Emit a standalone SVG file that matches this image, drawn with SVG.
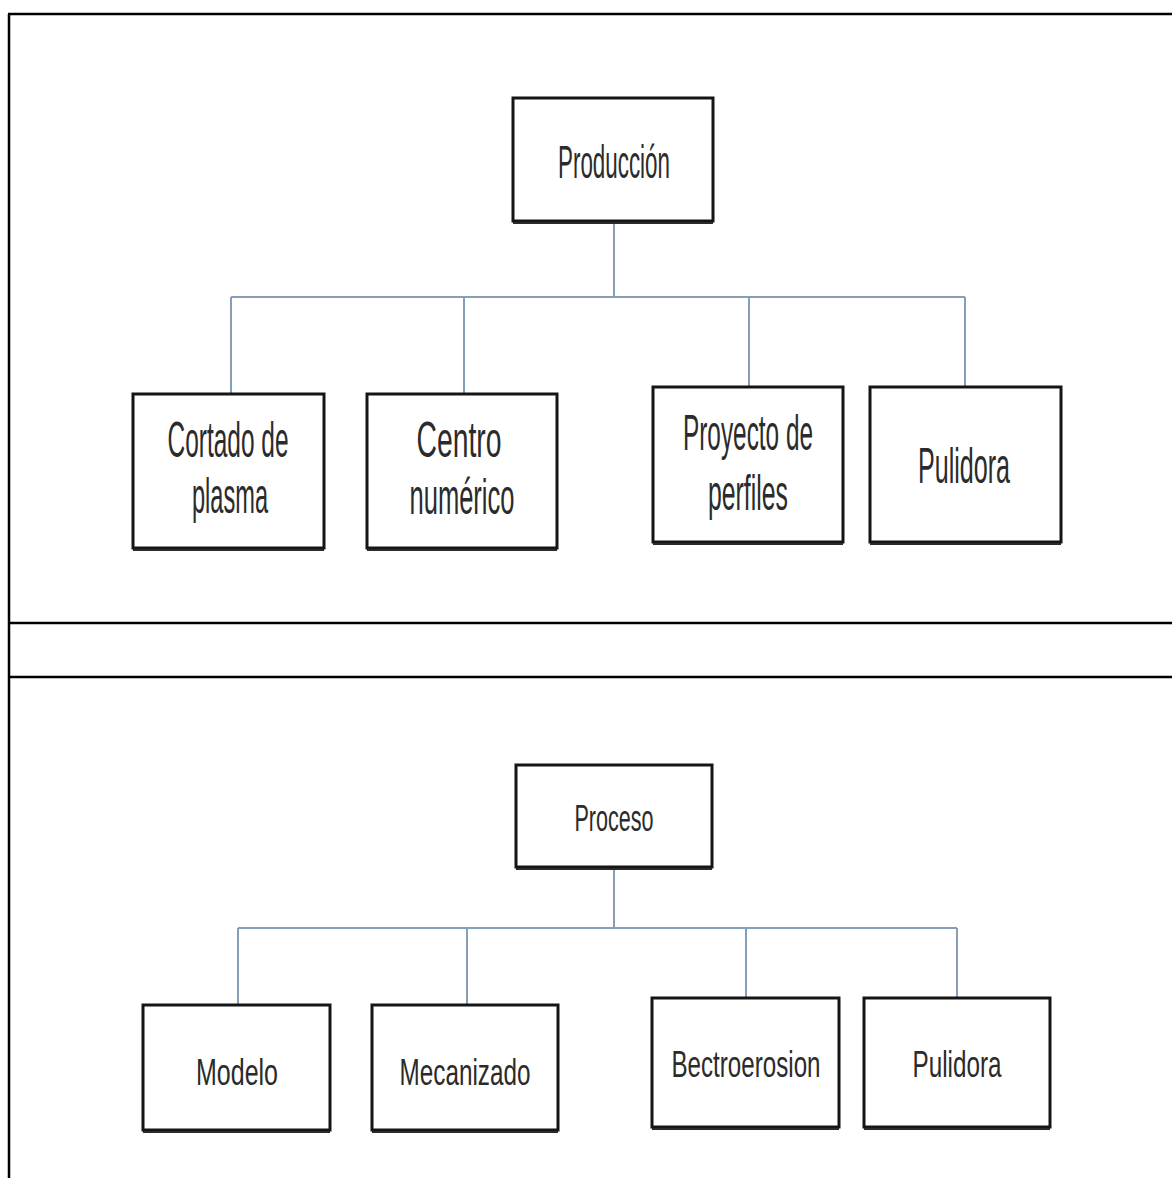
<svg xmlns="http://www.w3.org/2000/svg" width="1172" height="1178" viewBox="0 0 1172 1178">
  <style>
    .frame { stroke: #000; stroke-width: 2.5; fill: none; }
    .box { fill: #fff; stroke: #151515; stroke-width: 3; }
    .base { stroke: #2a2a2a; stroke-width: 2; fill: none; }
    .link { stroke: #869fb8; stroke-width: 2; fill: none; }
    .lbl { font-family: "Liberation Sans", Arial, sans-serif; fill: #2b2b2b; text-anchor: middle; }
    .big { font-size: 50px; }
    .mid { font-size: 46px; }
    .sm { font-size: 37px; }
  </style>
  <rect width="1172" height="1178" fill="#fff"/>

  <!-- table frame -->
  <g id="frame">
    <line class="frame" x1="8" y1="14" x2="1172" y2="14"/>
    <line class="frame" x1="9" y1="14" x2="9" y2="1178"/>
    <line class="frame" x1="9" y1="623" x2="1172" y2="623"/>
    <line class="frame" x1="9" y1="677" x2="1172" y2="677"/>
  </g>

  <!-- connectors -->
  <g id="connectors">
    <path class="link" d="M614 222V297M231 297H965M231 297V393M464 297V393M749 297V386M965 297V386"/>
    <path class="link" d="M614 867V928M238 928H957M238 928V1005M467 928V1005M746 928V998M957 928V998"/>
  </g>

  <!-- upper chart -->
  <g id="produccion">
    <rect class="box" x="513" y="98" width="200" height="123"/>
    <line class="base" x1="513" y1="223" x2="713" y2="223"/>
    <text class="lbl mid" x="614" y="178" textLength="112" lengthAdjust="spacingAndGlyphs">Producción</text>
  </g>
  <g id="cortado">
    <rect class="box" x="133" y="394" width="191" height="154"/>
    <line class="base" x1="133" y1="550" x2="324" y2="550"/>
    <text class="lbl big" x="228" y="457" textLength="121" lengthAdjust="spacingAndGlyphs">Cortado de</text>
    <text class="lbl big" x="230" y="513" textLength="76" lengthAdjust="spacingAndGlyphs">plasma</text>
  </g>
  <g id="centro">
    <rect class="box" x="367" y="394" width="190" height="154"/>
    <line class="base" x1="367" y1="550" x2="557" y2="550"/>
    <text class="lbl big" x="459" y="457" textLength="85" lengthAdjust="spacingAndGlyphs">Centro</text>
    <text class="lbl big" x="462" y="514" textLength="105" lengthAdjust="spacingAndGlyphs">numérico</text>
  </g>
  <g id="proyecto">
    <rect class="box" x="653" y="387" width="190" height="155"/>
    <line class="base" x1="653" y1="544" x2="843" y2="544"/>
    <text class="lbl big" x="748" y="450" textLength="130" lengthAdjust="spacingAndGlyphs">Proyecto de</text>
    <text class="lbl big" x="748" y="510" textLength="80" lengthAdjust="spacingAndGlyphs">perfiles</text>
  </g>
  <g id="pulidora-1">
    <rect class="box" x="870" y="387" width="191" height="155"/>
    <line class="base" x1="870" y1="544" x2="1061" y2="544"/>
    <text class="lbl big" x="964" y="483" textLength="92" lengthAdjust="spacingAndGlyphs">Pulidora</text>
  </g>

  <!-- lower chart -->
  <g id="proceso">
    <rect class="box" x="516" y="765" width="196" height="102"/>
    <line class="base" x1="516" y1="869" x2="712" y2="869"/>
    <text class="lbl sm" x="614" y="831" textLength="79" lengthAdjust="spacingAndGlyphs">Proceso</text>
  </g>
  <g id="modelo">
    <rect class="box" x="143" y="1005" width="187" height="125"/>
    <line class="base" x1="143" y1="1132" x2="330" y2="1132"/>
    <text class="lbl sm" x="237" y="1085" textLength="82" lengthAdjust="spacingAndGlyphs">Modelo</text>
  </g>
  <g id="mecanizado">
    <rect class="box" x="372" y="1005" width="186" height="125"/>
    <line class="base" x1="372" y1="1132" x2="558" y2="1132"/>
    <text class="lbl sm" x="465" y="1085" textLength="131" lengthAdjust="spacingAndGlyphs">Mecanizado</text>
  </g>
  <g id="bectroerosion">
    <rect class="box" x="652" y="998" width="187" height="129"/>
    <line class="base" x1="652" y1="1129" x2="839" y2="1129"/>
    <text class="lbl sm" x="746" y="1077" textLength="149" lengthAdjust="spacingAndGlyphs">Bectroerosion</text>
  </g>
  <g id="pulidora-2">
    <rect class="box" x="864" y="998" width="186" height="129"/>
    <line class="base" x1="864" y1="1129" x2="1050" y2="1129"/>
    <text class="lbl sm" x="957" y="1077" textLength="89" lengthAdjust="spacingAndGlyphs">Pulidora</text>
  </g>
</svg>
